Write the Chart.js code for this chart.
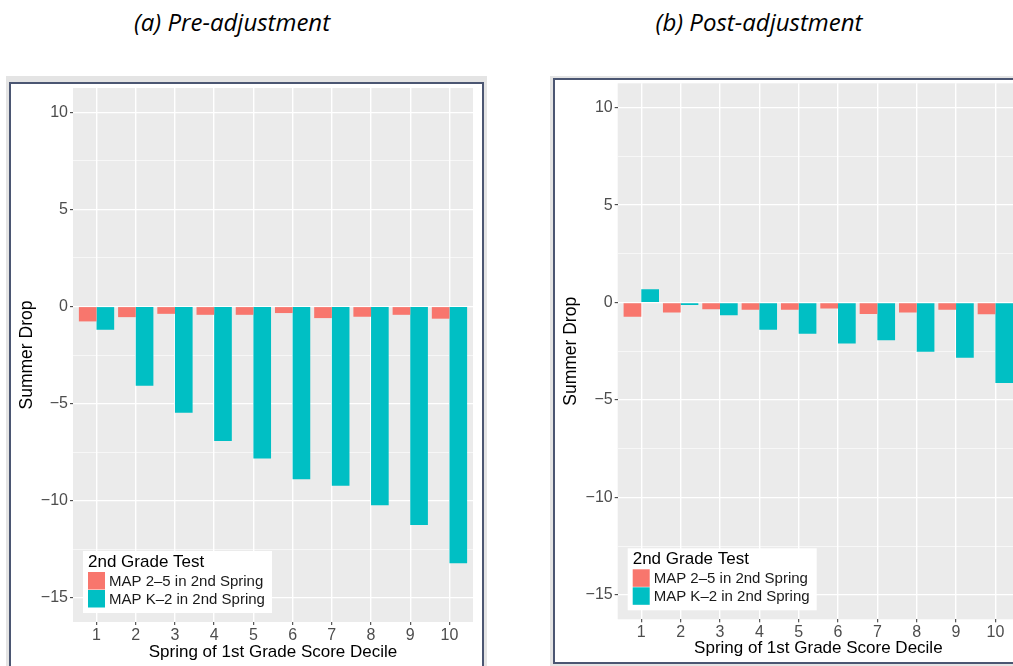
<!DOCTYPE html>
<html><head><meta charset="utf-8">
<script src="https://cdn.jsdelivr.net/npm/chart.js@4.4.1/dist/chart.umd.min.js"></script>
<style>
html,body{margin:0;padding:0;width:1013px;height:666px;overflow:hidden;background:#fff;}
.title{position:absolute;font-family:"Open Sans";font-style:italic;font-size:24px;color:#000;white-space:nowrap;transform:translateX(-50%);top:5px;}
.outer{position:absolute;background:#e4e4e4;}
.frame{position:absolute;border:2px solid #4b5672;background:#fff;overflow:hidden;box-sizing:border-box;}
.wrap{position:absolute;left:0;top:0;}
</style></head><body>
<div class="title" style="left:232px">(a) Pre-adjustment</div>
<div class="title" style="left:759px">(b) Post-adjustment</div>
<div class="outer" style="left:6px;top:76px;width:481px;height:600px"></div>
<div class="frame" style="left:9px;top:82px;width:475px;height:600px"><div class="wrap" style="width:471px;height:582px"><canvas id="c1"></canvas></div></div>
<div class="outer" style="left:550px;top:76px;width:480px;height:590px"></div>
<div class="frame" style="left:553px;top:78px;width:480px;height:586px"><div class="wrap" style="width:473px;height:582px"><canvas id="c2"></canvas></div></div>
<script>
// ---- data ----
const categories = [1, 2, 3, 4, 5, 6, 7, 8, 9, 10];
const seriesNames = ["MAP 2\u20135 in 2nd Spring", "MAP K\u20132 in 2nd Spring"];
const legendTitle = "2nd Grade Test";
const preMap25 = [-0.77, -0.55, -0.38, -0.43, -0.43, -0.34, -0.60, -0.53, -0.43, -0.63];
const preMapK2 = [-1.20, -4.09, -5.48, -6.93, -7.83, -8.90, -9.23, -10.24, -11.25, -13.22];
const postMap25 = [-0.73, -0.51, -0.34, -0.37, -0.37, -0.31, -0.58, -0.51, -0.37, -0.60];
const postMapK2 = [0.68, -0.12, -0.65, -1.40, -1.60, -2.10, -1.93, -2.52, -2.83, -4.13];
const yMajorTicks = [-15, -10, -5, 0, 5, 10];
const yMinorTicks = [-12.5, -7.5, -2.5, 2.5, 7.5];
const yTitle = "Summer Drop";
const xTitle = "Spring of 1st Grade Score Decile";
const colors = ["#F8766D", "#00BFC4"];

const FONT = "'Liberation Sans', Arial, sans-serif";

const bgPlugin = {
  id: 'panelBg',
  beforeDraw(chart) {
    const a = chart.chartArea, ctx = chart.ctx;
    ctx.save(); ctx.fillStyle = '#EBEBEB';
    ctx.fillRect(a.left, a.top, a.right - a.left, a.bottom - a.top);
    ctx.restore();
  }
};
const legendPlugin = {
  id: 'ggLegend',
  afterDatasetsDraw(chart) {
    const a = chart.chartArea, ctx = chart.ctx;
    const w = 189, h = 62;
    const x0 = a.left + 10, y0 = a.bottom - 9 - h;
    ctx.save();
    ctx.fillStyle = '#fff'; ctx.fillRect(x0, y0, w, h);
    ctx.fillStyle = '#000'; ctx.textBaseline = 'middle'; ctx.textAlign = 'left';
    ctx.font = '17px ' + FONT;
    ctx.fillText(legendTitle, x0 + 5, y0 + 11);
    ctx.font = '15px ' + FONT;
    chart.data.datasets.forEach((ds, i) => {
      ctx.fillStyle = ds.backgroundColor;
      ctx.fillRect(x0 + 5, y0 + 21 + 18 * i, 17, 17.5);
      ctx.fillStyle = '#1a1a1a';
      ctx.fillText(ds.label, x0 + 26, y0 + 30.5 + 18 * i);
    });
    ctx.restore();
  }
};

function fmt(v) { return v < 0 ? '\u2212' + Math.abs(v) : String(v); }
function isMajor(v) { return yMajorTicks.indexOf(v) >= 0; }

function makeChart(id, a, b, L, T, R, H) {
  return new Chart(document.getElementById(id), {
    type: 'bar',
    data: {
      datasets: [
        { label: seriesNames[0], data: a.map((v, i) => ({ x: categories[i], y: v })), backgroundColor: colors[0], borderWidth: 0 },
        { label: seriesNames[1], data: b.map((v, i) => ({ x: categories[i], y: v })), backgroundColor: colors[1], borderWidth: 0 }
      ]
    },
    options: {
      responsive: true, maintainAspectRatio: false, animation: false,
      layout: { padding: { left: 0, top: T, right: R, bottom: 0 } },
      datasets: { bar: { categoryPercentage: 0.9, barPercentage: 1.0 } },
      plugins: { legend: { display: false }, tooltip: { enabled: false } },
      scales: {
        x: {
          type: 'linear', min: 0.4, max: 10.6, offset: false,
          afterBuildTicks(s) { s.ticks = categories.map(v => ({ value: v })); },
          afterFit(s) { s.height = H; s.paddingLeft = 0; s.paddingRight = 0; },
          grid: { offset: false, color: '#fff', lineWidth: 1.4, drawTicks: true, tickLength: 3, tickColor: '#333', tickWidth: 1 },
          border: { display: false },
          ticks: { color: '#4d4d4d', font: { family: FONT, size: 16 }, padding: 1, maxRotation: 0, autoSkip: false, callback: v => String(v) },
          title: { display: true, text: xTitle, color: '#000', font: { family: FONT, size: 17 }, padding: { top: 0, bottom: 3 } }
        },
        y: {
          min: -16.25, max: 11.25,
          afterBuildTicks(s) { s.ticks = yMajorTicks.concat(yMinorTicks).sort((p, q) => p - q).map(v => ({ value: v })); },
          afterFit(s) { s.width = L; s.paddingTop = 0; s.paddingBottom = 0; },
          grid: {
            color: '#fff',
            lineWidth: c => isMajor(c.tick.value) ? 1.3 : 0.6,
            drawTicks: true, tickLength: 3, tickWidth: 1,
            tickColor: c => isMajor(c.tick.value) ? '#333' : 'rgba(0,0,0,0)'
          },
          border: { display: false },
          ticks: { color: '#4d4d4d', font: { family: FONT, size: 16 }, padding: 2, autoSkip: false, callback: v => isMajor(v) ? fmt(v) : '' },
          title: { display: true, text: yTitle, color: '#000', font: { family: FONT, size: 17.5 }, padding: { top: 6, bottom: 0 } }
        }
      }
    },
    plugins: [bgPlugin, legendPlugin]
  });
}

makeChart('c1', preMap25, preMapK2, 62, 4, 9, 44);
makeChart('c2', postMap25, postMapK2, 62.7, 3.3, 9, 42.7);
</script>
</body></html>
